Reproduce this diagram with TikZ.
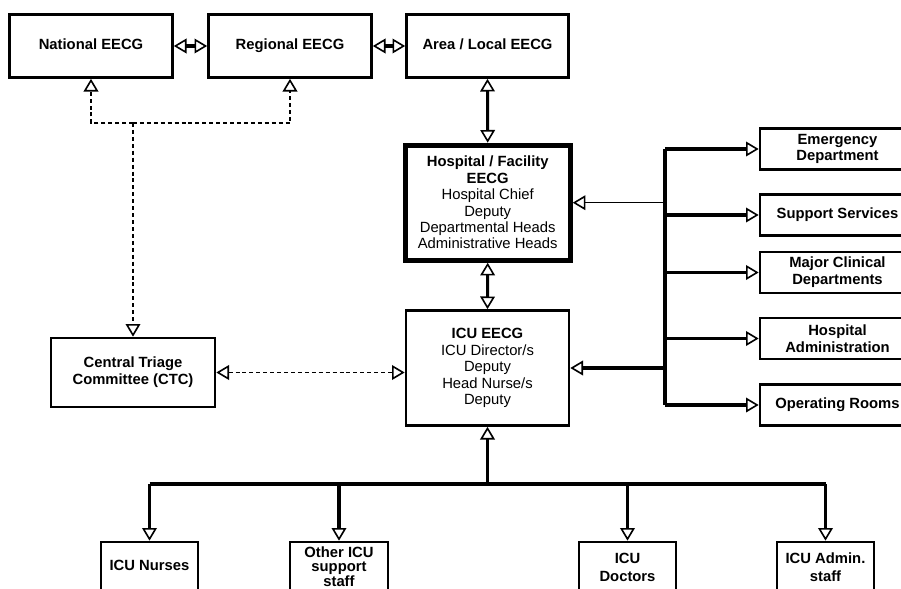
\documentclass[tikz,border=0pt]{standalone}
\usepackage{fontspec}
\setmainfont{Liberation Sans}
\usetikzlibrary{arrows.meta}
\begin{document}
\begin{tikzpicture}[x=0.75pt,y=-0.75pt,
  >={Triangle[open,length=9.5pt,width=11pt,line width=1.2pt]},
  box/.style={draw, line width=2pt, align=center, inner sep=0pt, fill=white,
    font=\fontsize{11.1}{12.6}\selectfont},
  one/.style={text height=8pt, text depth=2.3pt},
  sz/.style 2 args={minimum width=#1*0.75pt, minimum height=#2*0.75pt},
  conn/.style={line width=2.3pt},
  thinconn/.style={line width=1pt},
  dconn/.style={line width=0.9pt, dash pattern=on 3pt off 2.2pt}]
\useasboundingbox (0,0) rectangle (901,589);
\clip (0,0) rectangle (901,589);
% top row
\node[box, one, sz={163}{63}] (national) at (91,46) {\textbf{National EECG}};
\node[box, one, sz={163}{63}] (regional) at (290,46) {\textbf{Regional EECG}};
\node[box, one, sz={162}{63}] (area) at (487.5,46) {\textbf{Area / Local EECG}};
% hospital
\node[box, line width=3.8pt, sz={165}{115}, font=\fontsize{11.1}{12.3}\selectfont] (hosp) at (487.7,202.7)
  {\textbf{Hospital / Facility}\\ \textbf{EECG}\\ Hospital Chief\\ Deputy\\ Departmental Heads\\ Administrative Heads};
% ICU
\node[box, sz={163}{115}, font=\fontsize{11.1}{12.4}\selectfont] (icu) at (487.5,368)
  {\textbf{ICU EECG}\\ ICU Director/s\\ Deputy\\ Head Nurse/s\\ Deputy};
% CTC
\node[box, sz={164}{69}] (ctc) at (133,372.5) {\textbf{Central Triage}\\ \textbf{Committee (CTC)}};
% right boxes
\node[box, sz={155}{41}] (ed) at (837.5,149) {\textbf{Emergency}\\ \textbf{Department}};
\node[box, one, sz={155}{41}] (ss) at (837.5,215) {\textbf{Support Services}};
\node[box, sz={155}{41}] (mcd) at (837.5,272.5) {\textbf{Major Clinical}\\ \textbf{Departments}};
\node[box, sz={155}{41}] (ha) at (837.5,338.5) {\textbf{Hospital}\\ \textbf{Administration}};
\node[box, one, sz={155}{41}] (or) at (837.5,405) {\textbf{Operating Rooms}};
% bottom boxes
\node[box, one, sz={97}{50}] (nurses) at (149.5,567) {\textbf{ICU Nurses}};
\node[box, sz={98}{50}, font=\fontsize{11.1}{10.2}\selectfont] (other) at (339,567) {\textbf{Other ICU}\\ \textbf{support}\\ \textbf{staff}};
\node[box, sz={97}{50}, font=\fontsize{11.1}{13.4}\selectfont] (doctors) at (627.5,567) {\textbf{ICU}\\ \textbf{Doctors}};
\node[box, sz={97}{50}, font=\fontsize{11.1}{13.4}\selectfont] (admin) at (825.5,567) {\textbf{ICU Admin.}\\ \textbf{staff}};
% top connectors
\draw[conn, <->] (national.east) -- (regional.west);
\draw[conn, <->] (regional.east) -- (area.west);
\draw[conn, <->] (area.south) -- (hosp.north);
\draw[conn, <->] (hosp.south) -- (icu.north);
% dashed
\coordinate (dj) at (133,123);
\draw[dconn, ->] (dj) -| (national.south);
\draw[dconn, ->] (dj) -| (regional.south);
\draw[dconn, ->] (dj) -- (ctc.north);
\draw[dconn, <->] (ctc.east) -- (icu.west |- ctc.east);
% right bus
\coordinate (bus) at (665,149);
\draw[conn] (bus |- ed.west) -- (bus |- or.west);
\draw[conn, ->] (bus |- ed.west) -- (ed.west);
\draw[conn, ->] (bus |- ss.west) -- (ss.west);
\draw[conn, ->] (bus |- mcd.west) -- (mcd.west);
\draw[conn, ->] (bus |- ha.west) -- (ha.west);
\draw[conn, ->] (bus |- or.west) -- (or.west);
\draw[thinconn, ->] (bus |- hosp.east) -- (hosp.east);
\draw[conn, ->] (bus |- icu.east) -- (icu.east);
% bottom bus
\coordinate (bj) at (487.5,484);
\draw[conn, ->] (bj) -- (icu.south);
\draw[conn] (nurses.north |- bj) -- (admin.north |- bj);
\draw[conn, ->] (nurses.north |- bj) -- (nurses.north);
\draw[conn, ->] (other.north |- bj) -- (other.north);
\draw[conn, ->] (doctors.north |- bj) -- (doctors.north);
\draw[conn, ->] (admin.north |- bj) -- (admin.north);
\end{tikzpicture}
\end{document}
